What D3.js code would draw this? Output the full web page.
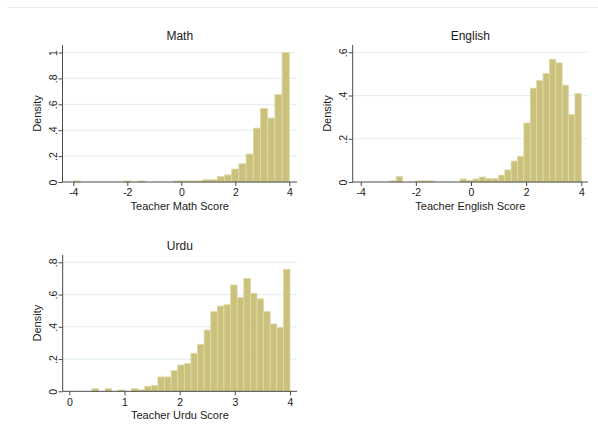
<!DOCTYPE html>
<html>
<head>
<meta charset="utf-8">
<script src="https://cdn.jsdelivr.net/npm/d3@7"></script>
<style>
  body { margin: 0; background: #fff; }
  svg { display: block; font-family: "Liberation Sans", Arial, sans-serif; }
</style>
</head>
<body>
<div id="chart"></div>
<script>
/* global d3 */

// Histogram densities, 30 equal-width bins per subject (bin edges from the range)
const mathDensity = [0.008, 0, 0, 0, 0, 0, 0, 0.008, 0, 0.008,
  0, 0, 0, 0, 0.008, 0.008, 0.008, 0.008, 0.018, 0.018,
  0.042, 0.055, 0.10, 0.141, 0.216, 0.416, 0.568, 0.494, 0.676, 1.0];
const mathRange = [-4, 4];

const englishDensity = [0.005, 0.025, 0, 0, 0.005, 0.005, 0.005, 0, 0, 0,
  0, 0.014, 0.008, 0.014, 0.023, 0.015, 0.015, 0.032, 0.056, 0.097,
  0.119, 0.273, 0.434, 0.469, 0.502, 0.568, 0.551, 0.448, 0.313, 0.410];
const englishRange = [-2.94, 4];

const urduDensity = [0.016, 0, 0.016, 0, 0.008, 0, 0.016, 0.009, 0.031, 0.037,
  0.089, 0.089, 0.128, 0.163, 0.172, 0.236, 0.291, 0.38, 0.494, 0.529,
  0.537, 0.659, 0.581, 0.70, 0.608, 0.573, 0.494, 0.418, 0.395, 0.757];
const urduRange = [0.41, 4];

// Tick values
const mathXTicks = [-4, -2, 0, 2, 4];
const mathYTicks = [0, 0.2, 0.4, 0.6, 0.8, 1];
const englishXTicks = [-4, -2, 0, 2, 4];
const englishYTicks = [0, 0.2, 0.4, 0.6];
const urduXTicks = [0, 1, 2, 3, 4];
const urduYTicks = [0, 0.2, 0.4, 0.6, 0.8];

const panelTitles = ['Math', 'English', 'Urdu'];
const xTitles = ['Teacher Math Score', 'Teacher English Score', 'Teacher Urdu Score'];

const W = 598, H = 439;
const BAR_FILL = '#cac17c';
const BAR_STROKE = '#e0daa8';
const GRID = '#e6eff1';
const AXIS = '#4a4a4a';
const TEXT = '#1a1a1a';

// Stata style labels: 0, .2, .4 ... 1
const stataFmt = d => (d === 0 ? '0' : String(+d.toFixed(2)).replace(/^(-?)0\./, '$1.'));

const svg = d3.select('#chart').append('svg')
  .attr('width', W)
  .attr('height', H);

// faint frame line across the top
svg.append('line')
  .attr('x1', 7).attr('x2', W)
  .attr('y1', 7.5).attr('y2', 7.5)
  .attr('stroke', '#ebebeb');

function drawPanel(p) {
  const g = svg.append('g');

  const x = d3.scaleLinear()
    .domain([p.xTicks[0], p.xTicks[p.xTicks.length - 1]])
    .range([p.xStart, p.xEnd]);
  const y = d3.scaleLinear()
    .domain([0, p.yTicks[p.yTicks.length - 1]])
    .range([p.base, p.yTopPx]);

  // gridlines
  g.selectAll('.grid')
    .data(p.yTicks.filter(d => d > 0))
    .enter().append('line')
    .attr('x1', p.left).attr('x2', p.right)
    .attr('y1', d => y(d)).attr('y2', d => y(d))
    .attr('stroke', GRID)
    .attr('stroke-width', 1.2);

  // bars
  const bw = (p.range[1] - p.range[0]) / p.density.length;
  const bins = p.density.map((d, i) => ({ lo: p.range[0] + i * bw, hi: p.range[0] + (i + 1) * bw, v: d }))
    .filter(b => b.v > 0);

  g.selectAll('.bar')
    .data(bins)
    .enter().append('rect')
    .attr('x', b => x(b.lo))
    .attr('width', b => x(b.hi) - x(b.lo))
    .attr('y', b => y(b.v))
    .attr('height', b => y(0) - y(b.v))
    .attr('fill', BAR_FILL)
    .attr('stroke', BAR_STROKE)
    .attr('stroke-width', 0.8);

  // x axis
  const xAxis = g.append('g')
    .attr('transform', `translate(0,${p.base})`)
    .call(d3.axisBottom(x).tickValues(p.xTicks).tickFormat(d => d).tickSize(4).tickPadding(3).tickSizeOuter(0));
  xAxis.select('.domain').remove();
  xAxis.selectAll('line').attr('stroke', AXIS);
  xAxis.selectAll('text')
    .attr('fill', TEXT)
    .style('font-size', '10.5px')
    .style('font-family', '"Liberation Sans", Arial, sans-serif');

  // y axis with rotated labels
  const yAxis = g.append('g')
    .attr('transform', `translate(${p.left},0)`)
    .call(d3.axisLeft(y).tickValues(p.yTicks).tickFormat(stataFmt).tickSize(4).tickSizeOuter(0));
  yAxis.select('.domain').remove();
  yAxis.selectAll('line').attr('stroke', AXIS);
  yAxis.selectAll('text')
    .attr('transform', 'rotate(-90)')
    .attr('x', 0)
    .attr('y', -6)
    .attr('dy', 0)
    .attr('text-anchor', 'middle')
    .attr('fill', TEXT)
    .style('font-size', '10.5px')
    .style('font-family', '"Liberation Sans", Arial, sans-serif');

  // axis lines
  g.append('line')
    .attr('x1', p.left).attr('x2', p.right)
    .attr('y1', p.base).attr('y2', p.base)
    .attr('stroke', AXIS);
  g.append('line')
    .attr('x1', p.left).attr('x2', p.left)
    .attr('y1', p.top).attr('y2', p.base)
    .attr('stroke', AXIS);

  // titles
  const cx = (p.left + p.right) / 2;
  g.append('text')
    .attr('x', cx).attr('y', p.top - 5)
    .attr('text-anchor', 'middle')
    .attr('fill', TEXT)
    .style('font-size', '12px')
    .text(p.title);

  g.append('text')
    .attr('x', cx).attr('y', p.base + 28)
    .attr('text-anchor', 'middle')
    .attr('fill', TEXT)
    .style('font-size', '11px')
    .text(p.xTitle);

  g.append('text')
    .attr('transform', `translate(${p.left - 22},${(p.top + p.base) / 2}) rotate(-90)`)
    .attr('text-anchor', 'middle')
    .attr('fill', TEXT)
    .style('font-size', '11px')
    .text('Density');
}

drawPanel({
  title: panelTitles[0], xTitle: xTitles[0],
  density: mathDensity, range: mathRange,
  xTicks: mathXTicks, yTicks: mathYTicks,
  left: 62.5, right: 297, top: 45, base: 182,
  xStart: 73.3, xEnd: 289.3, yTopPx: 52.5
});

drawPanel({
  title: panelTitles[1], xTitle: xTitles[1],
  density: englishDensity, range: englishRange,
  xTicks: englishXTicks, yTicks: englishYTicks,
  left: 352.7, right: 588, top: 45, base: 182,
  xStart: 360.7, xEnd: 581.3, yTopPx: 52.3
});

drawPanel({
  title: panelTitles[2], xTitle: xTitles[2],
  density: urduDensity, range: urduRange,
  xTicks: urduXTicks, yTicks: urduYTicks,
  left: 62.7, right: 297, top: 255, base: 391.3,
  xStart: 69.3, xEnd: 290, yTopPx: 262.3
});
</script>
</body>
</html>
